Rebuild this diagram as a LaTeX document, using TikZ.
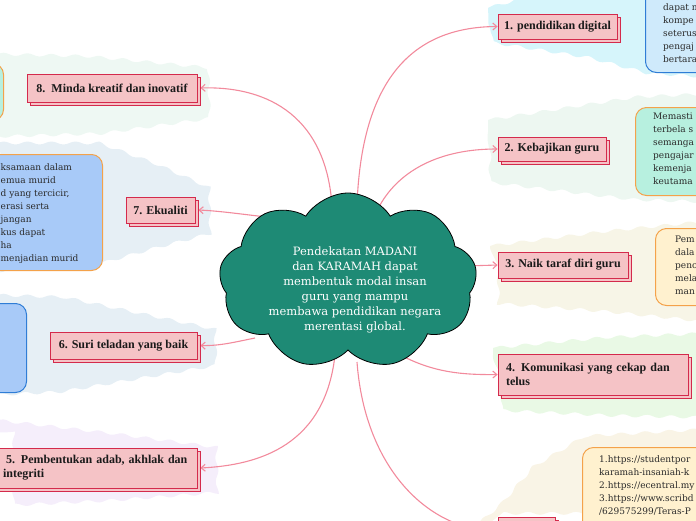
\documentclass[tikz,border=0pt]{standalone}
\usepackage{fontspec}
\setmainfont{DejaVu Serif}
\newfontfamily\topicfont{Liberation Serif}
\usetikzlibrary{shapes.symbols,shadows,arrows.meta,decorations.pathmorphing}
\definecolor{boxpink}{HTML}{F5C3C6}
\definecolor{boxred}{HTML}{D42A4C}
\definecolor{linkpink}{HTML}{F28A9C}
\definecolor{cloudteal}{HTML}{1E8A75}
\definecolor{txt}{HTML}{1A1A1A}
\definecolor{dtxt}{HTML}{2A2A2A}
\definecolor{orangeb}{HTML}{F4A24A}
\definecolor{blueb}{HTML}{2F7DD6}
\definecolor{skyfill}{HTML}{CFEAFB}
\definecolor{mintfill}{HTML}{B7F0DF}
\definecolor{creamfill}{HTML}{FFF1CF}
\definecolor{bluefill}{HTML}{A8CAF8}
\definecolor{bgcyan}{HTML}{D6F5FB}
\definecolor{bggreen}{HTML}{EDF7F1}
\definecolor{bgbeige}{HTML}{F7F5E7}
\definecolor{bglime}{HTML}{E9F9E5}
\definecolor{bgcream}{HTML}{F9F4E6}
\definecolor{bgmint}{HTML}{EEF8F3}
\definecolor{bgblue}{HTML}{E6EFF5}
\definecolor{bglav}{HTML}{F5EEFB}
\pgfdeclarelayer{back}
\pgfdeclarelayer{mid}
\pgfsetlayers{back,mid,main}
\begin{document}
\begin{tikzpicture}[x=1pt,y=-1pt,
  topic/.style={draw=boxred, fill=boxpink, line width=0.8pt,
    copy shadow={shadow xshift=3pt,shadow yshift=-3pt},
    text=txt, font=\topicfont\bfseries\fontsize{12}{14}\selectfont, inner sep=0pt},
  link/.style={draw=linkpink, line width=1.1pt, -{Straight Barb[length=4pt,width=7pt]}},
  detail/.style={rectangle, rounded corners=11pt, line width=1pt, minimum width=150pt, inner sep=0pt},
  dtext/.style={font=\fontsize{9}{13}\selectfont, text=dtxt, align=left, inner sep=0pt, anchor=north west},
  blob/.style={decorate, decoration={snake, amplitude=1.5pt, segment length=24pt}}
]
\useasboundingbox (0,0) rectangle (696,520);

% background blobs
\begin{pgfonlayer}{back}
\fill[bgcyan, blob] (488,8) -- (530,-4) -- (700,-4) -- (700,82) -- (640,78) -- (580,62) -- (490,48) -- cycle;
\fill[bggreen, blob] (488,120) -- (630,98) -- (700,95) -- (700,205) -- (630,203) -- (488,186) -- cycle;
\fill[bgbeige, blob] (490,246) -- (600,232) -- (700,222) -- (700,310) -- (600,300) -- (490,292) -- cycle;
\fill[bglime, blob] (493,348) -- (600,338) -- (700,334) -- (700,412) -- (600,410) -- (493,405) -- cycle;
\fill[bgcream, blob] (478,524) -- (500,505) -- (530,470) -- (575,443) -- (700,436) -- (700,524) -- cycle;
\fill[bgmint, blob] (-4,54) -- (80,56) -- (206,68) -- (207,110) -- (100,125) -- (-4,128) -- cycle;
\fill[bgblue, blob] (-4,143) -- (90,143) -- (150,165) -- (206,190) -- (207,240) -- (150,255) -- (90,272) -- (-4,278) -- cycle;
\fill[bgblue, blob] (-4,295) -- (60,297) -- (206,328) -- (207,370) -- (60,395) -- (-4,398) -- cycle;
\fill[bglav, blob] (-4,420) -- (100,432) -- (206,446) -- (207,497) -- (100,505) -- (-4,510) -- cycle;
\end{pgfonlayer}

% detail boxes
\node[detail, draw=blueb, fill=skyfill, minimum height=110pt, anchor=south west] (d1) at (645,73) {};
\node[dtext] (t1) at (663,3) {dapat m\\kompe\\seterus\\pengaj\\bertara};
\node[detail, draw=orangeb, fill=mintfill, minimum height=88pt, anchor=north west] (d2) at (635,107) {};
\node[dtext] (t2) at (653,113) {Memasti\\terbela s\\semanga\\pengajar\\kemenja\\keutama};
\node[detail, draw=orangeb, fill=creamfill, minimum height=77pt, anchor=north west] (d3) at (655,228) {};
\node[dtext] (t3) at (675,236) {Pem\\dala\\penc\\mela\\man};
\node[detail, draw=orangeb, fill=creamfill, minimum height=120pt, anchor=north west] (d9) at (582,447) {};
\node[dtext] (t9) at (599,455) {1.https://studentpor\\karamah-insaniah-k\\2.https://ecentral.my\\3.https://www.scribd\\/629575299/Teras-P};
\node[detail, draw=orangeb, fill=mintfill, minimum height=57pt, anchor=north east] (d8) at (4,63) {};
\node[detail, draw=orangeb, fill=bluefill, minimum height=116pt, anchor=north east] (d7) at (103,154) {};
\node[dtext] (t7) at (0.5,163) {ksamaan dalam\\emua murid\\d yang tercicir,\\erasi serta\\jangan\\kus dapat\\ha\\menjadian murid};
\node[detail, draw=blueb, fill=bluefill, minimum height=89pt, anchor=north east] (d6) at (27,303) {};

% central cloud
\node[cloud, cloud puffs=9, cloud puff arc=115, aspect=1.46, draw=black, fill=cloudteal,
  line width=0.8pt, minimum width=258pt, minimum height=176pt, inner sep=0pt] (c) at (348,281) {};
\node[text=white, align=center, font=\fontsize{11.5}{15}\selectfont, inner sep=0pt] (ct) at (355,290)
  {Pendekatan MADANI\\dan KARAMAH dapat\\membentuk modal insan\\guru yang mampu\\membawa pendidikan negara\\merentasi global.};

% topic boxes
\node[topic, minimum width=119pt, minimum height=25pt] (b1) at (557.5,26.5) {1. pendidikan digital};
\node[topic, minimum width=108pt, minimum height=24pt] (b2) at (552,149) {2. Kebajikan guru};
\node[topic, minimum width=130pt, minimum height=26pt] (b3) at (563,265) {3. Naik taraf diri guru};
\node[topic, minimum width=190pt, minimum height=41pt, text width=174pt, align=left] (b4) at (593,374.5) {\mbox{4. Komunikasi yang cekap dan}\\telus};
\node[topic, minimum width=205pt, minimum height=40pt, text width=183pt, align=left] (b5) at (94.5,468) {\mbox{\hspace*{3pt}5. Pembentukan adab, akhlak dan}\\integriti};
\node[topic, minimum width=147pt, minimum height=27pt] (b6) at (123.5,345.5) {6. Suri teladan yang baik};
\node[topic, minimum width=69pt, minimum height=26pt] (b7) at (160.5,210) {7. Ekualiti};
\node[topic, minimum width=170pt, minimum height=28pt] (b8) at (112,88) {8.\ \ Minda kreatif dan inovatif};
\node[topic, minimum width=57pt, minimum height=28pt] (b9) at (526.5,531) {};

% connector start points (hidden behind the cloud)
\coordinate (s1) at (357,205);
\coordinate (s2) at (380,205);
\coordinate (s3) at (465,266);
\coordinate (s4) at (395,352);
\coordinate (s5) at (335,355);
\coordinate (s6) at (255,338);
\coordinate (s7) at (275,218);
\coordinate (s8) at (332,205);
\coordinate (s9) at (357,362);

\begin{pgfonlayer}{mid}
\draw[link] (s1) .. controls (362,70) and (420,27) .. (b1.west);
\draw[link] (s2) .. controls (400,170) and (440,149) .. (b2.west);
\draw[link] (s3) -- (b3.west);
\draw[link] (s4) .. controls (430,372) and (460,375) .. (b4.west);
\draw[link] (s5) .. controls (325,445) and (260,465) .. ([xshift=3pt]b5.east);
\draw[link] (s6) .. controls (235,342) and (220,346) .. ([xshift=3pt]b6.east);
\draw[link] (s7) .. controls (240,214) and (220,211) .. ([xshift=3pt]b7.east);
\draw[link] (s8) .. controls (325,110) and (260,86) .. ([xshift=3pt]b8.east);
\draw[link] (s9) .. controls (365,470) and (430,531) .. (b9.west);
\end{pgfonlayer}
\end{tikzpicture}
\end{document}
